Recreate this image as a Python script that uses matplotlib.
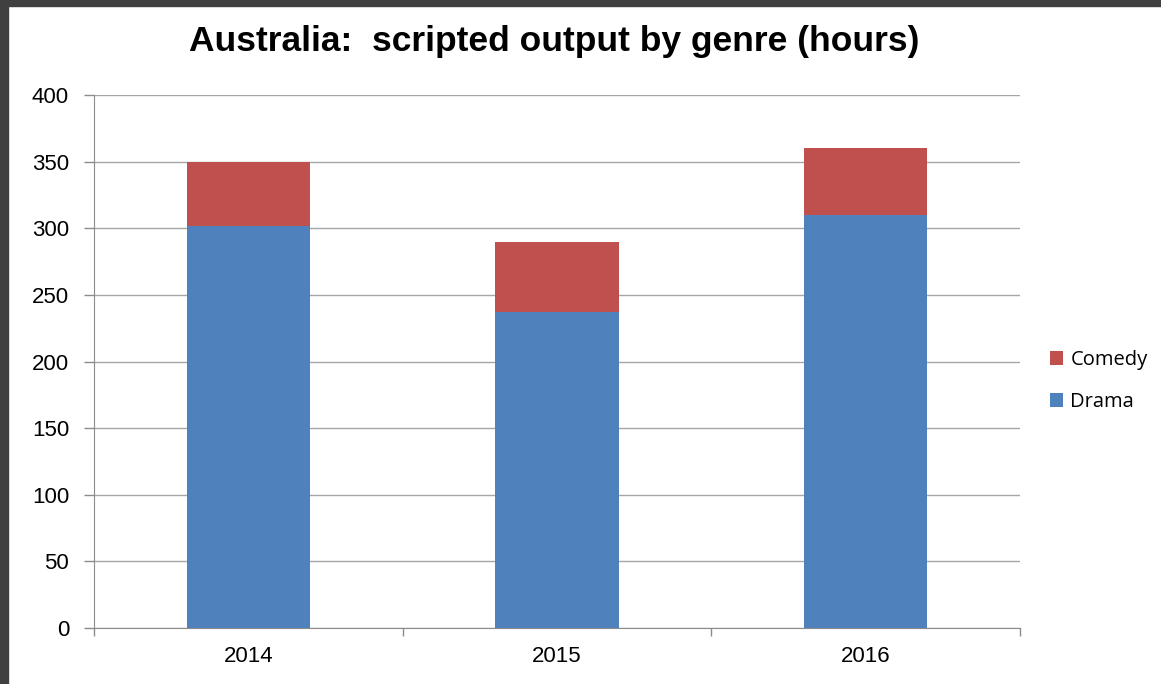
import matplotlib
matplotlib.use("Agg")
import matplotlib.pyplot as plt
from matplotlib.patches import Rectangle
import numpy as np

years = ["2014", "2015", "2016"]
drama = [302, 237, 310]
comedy = [48, 53, 50]
yticks = [0, 50, 100, 150, 200, 250, 300, 350, 400]

W, H = 1161, 684
fig = plt.figure(figsize=(W / 100, H / 100), dpi=100)
fig.patch.set_facecolor("white")
# dark frame strips (top and left)
fig.add_artist(Rectangle((0, 1 - 6 / H), 1, 6 / H, transform=fig.transFigure, color="#404040", zorder=10))
fig.add_artist(Rectangle((0, 0), 8 / W, 1, transform=fig.transFigure, color="#404040", zorder=10))

ax = fig.add_axes([94 / W, 56 / H, (1020 - 94) / W, (628 - 95) / H])
x = np.arange(len(years))
b1 = ax.bar(x, drama, width=0.4, color="#4F81BD", label="Drama", zorder=3)
b2 = ax.bar(x, comedy, bottom=drama, width=0.4, color="#C0504D", label="Comedy", zorder=3)

ax.set_xlim(-0.5, 2.5)
ax.set_ylim(0, 400)
ax.set_yticks(yticks)
ax.set_yticklabels([str(v) for v in yticks], fontsize=16, family="Liberation Sans")
ax.yaxis.grid(True, color="#A6A6A6", linewidth=1, zorder=0)
ax.set_xticks(x)
ax.set_xticklabels(years, fontsize=16, family="Liberation Sans")
ax.tick_params(axis="x", length=0, pad=13)
ax.tick_params(axis="y", length=7, color="#8C8C8C", width=1, pad=11)
# boundary ticks on x axis
ax.set_xticks([-0.5, 0.5, 1.5, 2.5], minor=True)
ax.tick_params(axis="x", which="minor", length=6, color="#8C8C8C", width=1)
for s in ["top", "right"]:
    ax.spines[s].set_visible(False)
ax.spines["left"].set_color("#8C8C8C")
ax.spines["bottom"].set_color("#8C8C8C")

fig.text(554 / W, 1 - 42 / H, "Australia:  scripted output by genre (hours)", ha="center", va="center",
         fontsize=25.5, fontweight="bold", family="Liberation Sans")

handles = [b2, b1]
leg = fig.legend(handles, ["Comedy", "Drama"], loc="center left", bbox_to_anchor=(1032 / W, 1 - 381 / H),
                 frameon=False, handlelength=0.65, handleheight=0.65, handletextpad=0.35,
                 labelspacing=1.1, prop={"family": "Open Sans", "size": 14.5})

fig.savefig("out.png", dpi=100)
